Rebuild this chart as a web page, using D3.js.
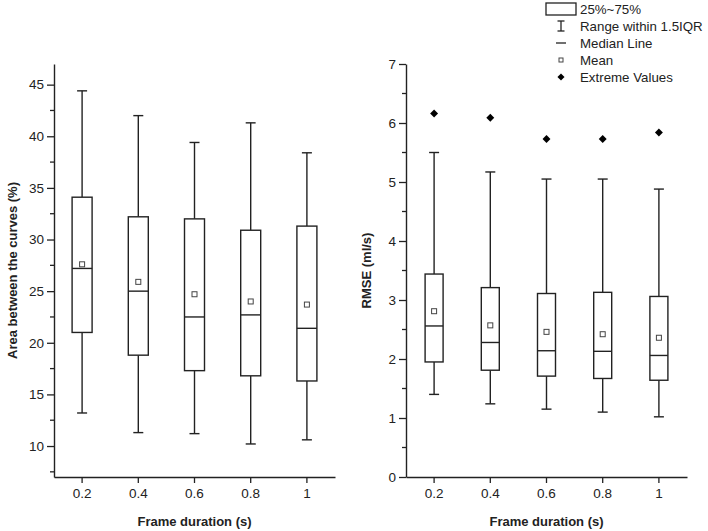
<!DOCTYPE html>
<html>
<head>
<meta charset="utf-8">
<script src="https://cdn.jsdelivr.net/npm/d3@7"></script>
<style>
  body { margin: 0; background: #fff; }
  svg { font-family: "Liberation Sans", Arial, sans-serif; }
</style>
</head>
<body>
<div id="chart"></div>
<script>
// categories (frame duration, s)
const categories = ['0.2', '0.4', '0.6', '0.8', '1'];

// left panel: area between the curves (%)
const areaWhiskerLow = [13.2, 11.3, 11.2, 10.2, 10.6];
const areaQ1 = [21.0, 18.8, 17.3, 16.8, 16.3];
const areaMedian = [27.2, 25.0, 22.5, 22.7, 21.4];
const areaMean = [27.6, 25.9, 24.7, 24.0, 23.7];
const areaQ3 = [34.1, 32.2, 32.0, 30.9, 31.3];
const areaWhiskerHigh = [44.4, 42.0, 39.4, 41.3, 38.4];
const areaTicks = [10, 15, 20, 25, 30, 35, 40, 45];

// right panel: RMSE (ml/s)
const rmseWhiskerLow = [1.40, 1.24, 1.15, 1.10, 1.02];
const rmseQ1 = [1.95, 1.81, 1.71, 1.67, 1.64];
const rmseMedian = [2.56, 2.28, 2.14, 2.13, 2.06];
const rmseMean = [2.81, 2.57, 2.46, 2.42, 2.36];
const rmseQ3 = [3.44, 3.21, 3.11, 3.13, 3.06];
const rmseWhiskerHigh = [5.50, 5.17, 5.05, 5.05, 4.88];
const rmseExtreme = [6.16, 6.09, 5.73, 5.73, 5.84];
const rmseTicks = [0, 1, 2, 3, 4, 5, 6, 7];

const legendLabels = ['25%~75%', 'Range within 1.5IQR', 'Median Line', 'Mean', 'Extreme Values'];

const width = 708, height = 531;
const ink = '#222';

const svg = d3.select('#chart').append('svg')
    .attr('width', width)
    .attr('height', height);

function drawPanel(opts) {
    const x = d3.scaleBand().domain(categories).range(opts.xRange);
    const y = d3.scaleLinear().domain(opts.yDomain).range([477, 64]);
    const g = svg.append('g');

    // y axis with outward major ticks
    const yAxis = g.append('g')
        .attr('transform', `translate(${opts.xRange[0]},0)`)
        .call(d3.axisLeft(y).tickValues(opts.yTicks).tickFormat(d3.format('d'))
            .tickSize(7).tickPadding(3).tickSizeOuter(0));
    // minor ticks
    yAxis.selectAll('line.minor')
        .data(opts.minorTicks)
        .enter().append('line')
        .attr('class', 'minor')
        .attr('x1', -4).attr('x2', 0)
        .attr('y1', d => y(d)).attr('y2', d => y(d));

    const xAxis = g.append('g')
        .attr('transform', 'translate(0,477)')
        .call(d3.axisBottom(x).tickSize(6).tickPadding(5).tickSizeOuter(0));

    [yAxis, xAxis].forEach(a => {
        a.select('.domain').attr('stroke', ink).attr('stroke-width', 1.4);
        a.selectAll('line').attr('stroke', ink).attr('stroke-width', 1.3);
        a.selectAll('text').attr('fill', ink).style('font-size', '13.5px');
    });

    // axis titles
    g.append('text')
        .attr('transform', `translate(${opts.yTitleX},${y(d3.mean(opts.yDomain))}) rotate(-90)`)
        .attr('text-anchor', 'middle')
        .attr('dominant-baseline', 'middle')
        .style('font-size', '13px')
        .style('font-weight', 'bold')
        .attr('fill', ink)
        .text(opts.yTitle);

    g.append('text')
        .attr('x', (opts.xRange[0] + opts.xRange[1]) / 2)
        .attr('y', 526)
        .attr('text-anchor', 'middle')
        .style('font-size', '13px')
        .style('font-weight', 'bold')
        .attr('fill', ink)
        .text('Frame duration (s)');

    const boxes = categories.map((c, i) => ({
        c,
        lo: opts.lo[i], q1: opts.q1[i], med: opts.med[i], mean: opts.mean[i],
        q3: opts.q3[i], hi: opts.hi[i], ext: opts.ext ? opts.ext[i] : null
    }));
    const cx = d => x(d.c) + x.bandwidth() / 2;
    const bw = opts.boxWidth;
    const cap = 10;

    const box = g.selectAll('g.box')
        .data(boxes)
        .enter().append('g')
        .attr('class', 'box')
        .attr('stroke', ink)
        .attr('stroke-width', 1.4)
        .attr('fill', 'none');

    // whiskers
    box.append('line')
        .attr('x1', cx).attr('x2', cx)
        .attr('y1', d => y(d.hi)).attr('y2', d => y(d.q3));
    box.append('line')
        .attr('x1', cx).attr('x2', cx)
        .attr('y1', d => y(d.q1)).attr('y2', d => y(d.lo));
    box.append('line')
        .attr('x1', d => cx(d) - cap / 2).attr('x2', d => cx(d) + cap / 2)
        .attr('y1', d => y(d.hi)).attr('y2', d => y(d.hi));
    box.append('line')
        .attr('x1', d => cx(d) - cap / 2).attr('x2', d => cx(d) + cap / 2)
        .attr('y1', d => y(d.lo)).attr('y2', d => y(d.lo));

    // box
    box.append('rect')
        .attr('x', d => cx(d) - bw / 2)
        .attr('width', bw)
        .attr('y', d => y(d.q3))
        .attr('height', d => y(d.q1) - y(d.q3))
        .attr('fill', '#fff');

    // median
    box.append('line')
        .attr('x1', d => cx(d) - bw / 2).attr('x2', d => cx(d) + bw / 2)
        .attr('y1', d => y(d.med)).attr('y2', d => y(d.med));

    // mean
    box.append('rect')
        .attr('x', d => cx(d) - 2.5).attr('y', d => y(d.mean) - 2.5)
        .attr('width', 5).attr('height', 5)
        .attr('stroke-width', 1)
        .attr('stroke', '#444')
        .attr('fill', '#fff');

    // extreme values
    if (opts.ext) {
        box.append('path')
            .attr('d', d3.symbol(d3.symbolDiamond2, 40))
            .attr('transform', d => `translate(${cx(d)},${y(d.ext)})`)
            .attr('fill', '#000')
            .attr('stroke', 'none');
    }
}

drawPanel({
    xRange: [54, 335],
    yDomain: [7, 47],
    yTicks: areaTicks,
    minorTicks: d3.range(7.5, 47, 5),
    yTitle: 'Area between the curves (%)',
    yTitleX: 14,
    boxWidth: 20,
    lo: areaWhiskerLow, q1: areaQ1, med: areaMedian, mean: areaMean, q3: areaQ3, hi: areaWhiskerHigh
});

drawPanel({
    xRange: [406, 687],
    yDomain: [0, 7],
    yTicks: rmseTicks,
    minorTicks: d3.range(0.5, 7, 1),
    yTitle: 'RMSE (ml/s)',
    yTitleX: 368,
    boxWidth: 18,
    lo: rmseWhiskerLow, q1: rmseQ1, med: rmseMedian, mean: rmseMean, q3: rmseQ3, hi: rmseWhiskerHigh, ext: rmseExtreme
});

// legend
const legend = svg.append('g')
    .attr('stroke', ink)
    .attr('stroke-width', 1.3)
    .attr('fill', 'none');
const ly = d3.scaleLinear().domain([0, 4]).range([9, 77]);
const sx = 561;

legend.append('rect')
    .attr('x', 546).attr('y', ly(0) - 6).attr('width', 30).attr('height', 12);
legend.append('line')
    .attr('x1', sx).attr('x2', sx).attr('y1', ly(1) - 5).attr('y2', ly(1) + 5);
legend.append('line')
    .attr('x1', sx - 3.5).attr('x2', sx + 3.5).attr('y1', ly(1) - 5).attr('y2', ly(1) - 5);
legend.append('line')
    .attr('x1', sx - 3.5).attr('x2', sx + 3.5).attr('y1', ly(1) + 5).attr('y2', ly(1) + 5);
legend.append('line')
    .attr('x1', sx - 5).attr('x2', sx + 5).attr('y1', ly(2)).attr('y2', ly(2));
legend.append('rect')
    .attr('x', sx - 2).attr('y', ly(3) - 2).attr('width', 4).attr('height', 4)
    .attr('stroke-width', 1).attr('stroke', '#444');
legend.append('path')
    .attr('d', d3.symbol(d3.symbolDiamond2, 32))
    .attr('transform', `translate(${sx},${ly(4)})`)
    .attr('fill', '#000').attr('stroke', 'none');

svg.append('g').selectAll('text')
    .data(legendLabels)
    .enter().append('text')
    .attr('x', 580)
    .attr('y', (d, i) => ly(i))
    .attr('dominant-baseline', 'central')
    .style('font-size', '13.3px')
    .attr('fill', ink)
    .text(d => d);
</script>
</body>
</html>
